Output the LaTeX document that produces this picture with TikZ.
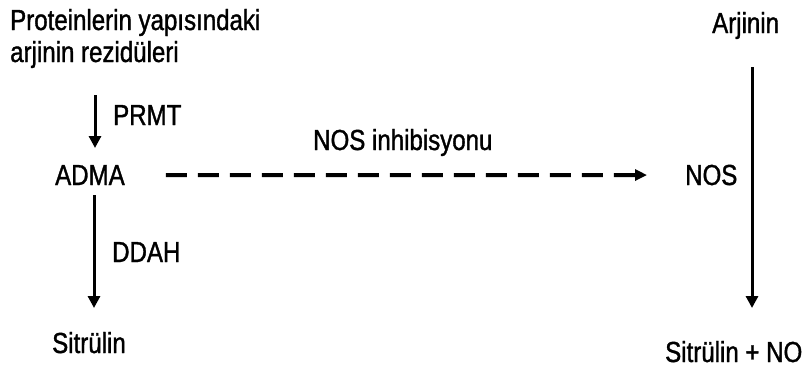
\documentclass[tikz,border=0pt]{standalone}
\usepackage{fontspec}
\setmainfont{Liberation Sans}[FakeStretch=0.83,FakeBold=1.2]
\usetikzlibrary{arrows.meta}
\begin{document}
\begin{tikzpicture}[x=1pt,y=-1pt,
  lbl/.style={inner sep=0pt, anchor=base west, font=\fontsize{29}{32}\selectfont},
  arr/.style={line width=3pt, -{Triangle[length=12pt,width=12pt]}},
  dasharr/.style={line width=4pt, dash pattern=on 21pt off 11pt, -{Triangle[length=12pt,width=11pt]}}]
\useasboundingbox (0,0) rectangle (805,370);
% left column
\node[lbl] (prot1) at (10,30) {Proteinlerin yapısındaki};
\node[lbl] (prot2) at (10,62) {arjinin rezidüleri};
\node[lbl] (prmt) at (113,125) {PRMT};
\node[lbl] (adma) at (55,185) {ADMA};
\node[lbl] (ddah) at (112,262) {DDAH};
\node[lbl] (sitL) at (52,353) {Sitrülin};
% middle
\node[lbl] (inh) at (313,150) {NOS inhibisyonu};
% right column
\node[lbl] (arj) at (712,33) {Arjinin};
\node[lbl] (nos) at (685,185) {NOS};
\node[lbl] (sitR) at (665,362) {Sitrülin + NO};
% x positions of the vertical arrows
\coordinate (lx1) at (95,0);
\coordinate (lx2) at (94,0);
\coordinate (rx) at (752,0);
% connectors
\draw[arr, shorten <=33pt, shorten >=37pt] (prot2.base -| lx1) -- (adma.base -| lx1);
\draw[arr, shorten <=10pt, shorten >=45pt] (adma.base -| lx2) -- (sitL.base -| lx2);
\draw[arr, shorten <=34pt, shorten >=54pt] (arj.base -| rx) -- (sitR.base -| rx);
\draw[dasharr, shorten <=41pt, shorten >=38pt] (adma.east) -- (nos.west);
\end{tikzpicture}
\end{document}
